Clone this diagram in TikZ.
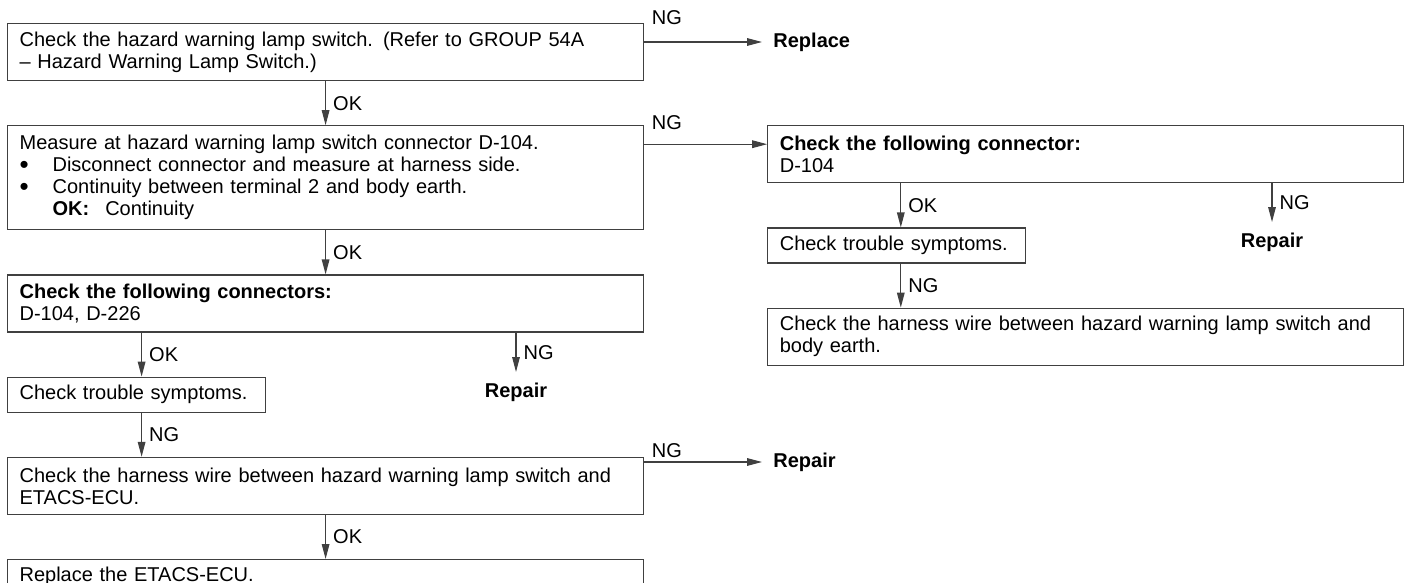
\documentclass[tikz,border=0pt]{standalone}
\usepackage{fontspec}
\setmainfont{Liberation Sans}[WordSpace=1.5]
\usetikzlibrary{arrows.meta,positioning}
\definecolor{linegray}{rgb}{0.25,0.25,0.25}
\newcommand{\bul}{\makebox[16.5pt][l]{\smash{\raisebox{-0.9pt}{\fontsize{13}{11}\selectfont\textbullet}}}}
\tikzset{
  chk/.style={
    draw=linegray, line width=0.6pt, anchor=north west, align=left,
    inner xsep=6pt, inner ysep=0pt, text width=306pt, minimum height=28.5pt,
    font=\fontsize{10}{11}\selectfont
  },
  chksmall/.style={chk, text width=117pt, minimum height=17.5pt},
  chktall/.style={chk, minimum height=52pt},
  act/.style={font=\fontsize{10}{11}\selectfont\bfseries, inner sep=5.5pt},
  tag/.style={font=\fontsize{10}{11}\selectfont, inner sep=0pt},
  flow/.style={draw=linegray, line width=0.6pt},
  arw/.style={flow, -{Triangle[length=7.5pt,width=3.8pt]}}
}

\begin{document}
\begin{tikzpicture}[x=0.5pt, y=-0.5pt]
    \useasboundingbox (0,0) rectangle (1407,583);

    % Main check sequence, top to bottom.
    \node[chk] (hzsw) at (7,23)
      {Check the hazard warning lamp switch. (Refer to GROUP 54A\\
       -- Hazard Warning Lamp Switch.)};
    \node[chktall, below=22pt of hzsw.south west, anchor=north west] (meas)
      {Measure at hazard warning lamp switch connector D-104.\\
       \bul Disconnect connector and measure at harness side.\\
       \bul Continuity between terminal 2 and body earth.\\
       \hspace*{16.5pt}\textbf{OK:}\hspace{8pt}Continuity};
    \node[chk, below=22pt of meas.south west, anchor=north west] (conn)
      {\textbf{Check the following connectors:}\\
       D-104, D-226};
    \node[chksmall, below=22pt of conn.south west, anchor=north west] (sym)
      {Check trouble symptoms.};
    \node[chk, below=22pt of sym.south west, anchor=north west] (wire)
      {Check the harness wire between hazard warning lamp switch and\\
       ETACS-ECU.};
    \node[chk, minimum height=16.5pt, below=22pt of wire.south west,
      anchor=north west] (ecu) {Replace the ETACS-ECU.};

    % Branch for the earth circuit.
    \node[chk, right=61.5pt of meas.north east, anchor=north west] (conn2)
      {\textbf{Check the following connector:}\\
       D-104};
    \node[chksmall, below=22pt of conn2.south west, anchor=north west] (sym2)
      {Check trouble symptoms.};
    \node[chk, below=22pt of sym2.south west, anchor=north west] (wire2)
      {Check the harness wire between hazard warning lamp switch and\\
       body earth.};

    % End actions.
    \node[act, anchor=west] (rpl) at (762,42) {Replace};
    \node[act, anchor=north] (rep1) at (516,372) {Repair};
    \node[act, anchor=west] (rep3) at (762,462) {Repair};
    \node[act, anchor=north] (rep2) at (1272,222) {Repair};

    \coordinate (symtop) at ([xshift=2.5pt]sym.north);
    \coordinate (sym2top) at ([xshift=2pt]sym2.north);
    \coordinate (in2) at ([yshift=-9.5pt]conn2.north west);

    \draw[arw] (hzsw.east |- rpl.west) -- (rpl.west)
      node[tag, pos=0, anchor=base west, shift={(3.5pt,8.5pt)}] {NG};
    \draw[arw] (hzsw) -- (meas) node[tag, midway, right=3.5pt] {OK};

    \draw[arw] (meas.east |- in2) -- (in2)
      node[tag, pos=0, anchor=base west, shift={(3.5pt,7.5pt)}] {NG};
    \draw[arw] (meas) -- (conn) node[tag, midway, right=3.5pt] {OK};

    \draw[arw] (symtop |- conn.south) -- (symtop)
      node[tag, midway, right=3.5pt] {OK};
    \draw[arw] (rep1.north |- conn.south) -- (rep1.north)
      node[tag, midway, right=3.5pt] {NG};

    \draw[arw] (symtop |- sym.south) -- (symtop |- wire.north)
      node[tag, midway, right=3.5pt] {NG};

    \draw[arw] (wire.east |- rep3.west) -- (rep3.west)
      node[tag, pos=0, anchor=base west, shift={(3.5pt,2.5pt)}] {NG};
    \draw[arw] (wire) -- (ecu) node[tag, midway, right=3.5pt] {OK};

    % Earth circuit branch.
    \draw[arw] (sym2top |- conn2.south) -- (sym2top)
      node[tag, midway, right=3.5pt] {OK};
    \draw[arw] (rep2.north |- conn2.south) -- (rep2.north)
      node[tag, midway, right=3.5pt] {NG};
    \draw[arw] (sym2top |- sym2.south) -- (sym2top |- wire2.north)
      node[tag, midway, right=3.5pt] {NG};
\end{tikzpicture}
\end{document}
